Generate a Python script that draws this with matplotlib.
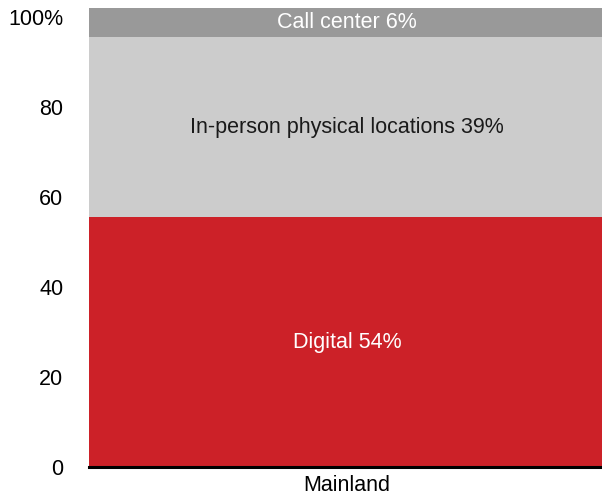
import matplotlib.pyplot as plt

plt.rcParams['font.family'] = ['Liberation Sans', 'DejaVu Sans']

# segment heights as drawn (bottom to top) and their printed labels
channels = ['Digital', 'In-person physical locations', 'Call center']
heights = [55.5, 40.1, 6.3]
shown_pct = [54, 39, 6]
colors = ['#CC2128', '#CCCCCC', '#999999']
text_colors = ['white', '#1a1a1a', 'white']
category = 'Mainland'
yticks = [0, 20, 40, 60, 80, 100]
ytick_labels = ['0', '20', '40', '60', '80', '100%']

fig = plt.figure(figsize=(6.02, 4.99), dpi=100)
ax = fig.add_axes([89 / 602, (499 - 467) / 499, 513 / 602, 459 / 499])

# bar is centred at x=0.503 and runs past the right edge of the figure
bar_center = 0.503
bottom = 0
for name, h, pct, c, tc in zip(channels, heights, shown_pct, colors, text_colors):
    ax.bar(bar_center, h, width=2 * bar_center, bottom=bottom, color=c, linewidth=0)
    ax.text(bar_center, bottom + h / 2, f'{name} {pct}%', ha='center', va='center',
            color=tc, fontsize=15.5)
    bottom += h

ax.set_xlim(0, 1)
ax.set_ylim(0, 102)
ax.set_xticks([bar_center])
ax.set_xticklabels([category], fontsize=15.5)
ax.set_yticks(yticks)
ax.set_yticklabels(ytick_labels, fontsize=15.5)
ax.tick_params(axis='both', length=0)
ax.tick_params(axis='y', pad=18.5)
ax.tick_params(axis='x', pad=6)

for side in ['left', 'right', 'top']:
    ax.spines[side].set_visible(False)
ax.spines['bottom'].set_linewidth(2.2)
ax.spines['bottom'].set_color('black')

fig.savefig('out.png', dpi=100)
